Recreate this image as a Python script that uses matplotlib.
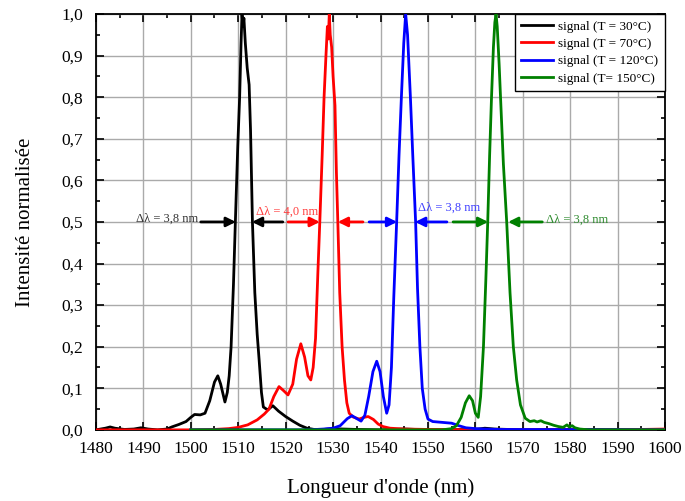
import numpy as np
import matplotlib
matplotlib.use('Agg')
import matplotlib.pyplot as plt
from matplotlib.ticker import MultipleLocator, FuncFormatter

plt.rcParams['font.family'] = ['Liberation Serif', 'DejaVu Serif']

# Spectra (wavelength in nm, normalised intensity)
wl_30 = [1480, 1482, 1483, 1484, 1486, 1488, 1489.5, 1491, 1493, 1495, 1496, 1497.5, 1499,
         1500, 1500.8, 1502, 1503, 1504, 1505, 1505.7, 1506.3, 1507.2, 1507.7, 1508.1, 1508.5,
         1509.0, 1509.4, 1509.9, 1510.3, 1510.6, 1510.8, 1511.0, 1511.2, 1511.5, 1511.9, 1512.3,
         1512.6, 1513.0, 1513.5, 1514.0, 1514.4, 1514.9, 1515.3, 1516.2, 1517.3, 1518.5, 1520,
         1521.5, 1523, 1524.5, 1526, 1528, 1530, 1532, 1535, 1540, 1545, 1550, 1560, 1562, 1564,
         1570, 1580, 1600]
int_30 = [0.0, 0.004, 0.007, 0.004, 0.001, 0.002, 0.005, 0.002, 0.0, 0.002, 0.007, 0.013, 0.02,
          0.03, 0.037, 0.036, 0.04, 0.07, 0.115, 0.13, 0.11, 0.067, 0.09, 0.13, 0.2,
          0.35, 0.5, 0.68, 0.8, 0.93, 1.0, 0.97, 0.99, 0.93, 0.87, 0.83,
          0.72, 0.5, 0.33, 0.23, 0.17, 0.09, 0.055, 0.048, 0.058, 0.045, 0.032,
          0.021, 0.011, 0.004, 0.001, 0.001, 0.003, 0.002, 0.001, 0.0, 0.002, 0.0, 0.001, 0.004, 0.002,
          0.0, 0.001, 0.0]

wl_70 = [1480, 1500, 1505, 1508, 1510, 1512, 1514, 1515.5, 1516.5, 1517.5, 1518.6, 1519.5, 1520.5,
         1521.5, 1522.3, 1523.2, 1524, 1524.7, 1525.3, 1525.8, 1526.3, 1526.8, 1527.2, 1527.7,
         1528.1, 1528.5, 1528.8, 1529.0, 1529.2, 1529.4, 1529.7, 1530.0, 1530.4, 1530.7, 1531.0,
         1531.4, 1531.9, 1532.4, 1532.9, 1533.4, 1534.2, 1535.5, 1536.5, 1537.4, 1538.5, 1539.5,
         1540.5, 1542, 1545, 1550, 1560, 1590, 1595, 1600]
int_70 = [0.0, 0.0, 0.001, 0.003, 0.006, 0.012, 0.024, 0.038, 0.05, 0.08, 0.104, 0.095, 0.084,
          0.11, 0.17, 0.207, 0.175, 0.13, 0.12, 0.15, 0.22, 0.38, 0.5, 0.66,
          0.8, 0.9, 0.97, 0.94, 1.0, 0.95, 0.92, 0.85, 0.78, 0.62, 0.5,
          0.33, 0.2, 0.12, 0.065, 0.04, 0.031, 0.026, 0.03, 0.032, 0.025, 0.014,
          0.008, 0.004, 0.002, 0.001, 0.0, 0.0, 0.001, 0.002]

wl_120 = [1500, 1525, 1528, 1530, 1531.5, 1533, 1534, 1535, 1535.9, 1536.7, 1537.5, 1538.4, 1539.2,
          1539.9, 1540.6, 1541.3, 1541.8, 1542.3, 1542.8, 1543.4, 1543.9, 1544.4, 1544.9, 1545.3,
          1545.7, 1546.3, 1546.8, 1547.4, 1547.8, 1548.3, 1548.8, 1549.4, 1550, 1551, 1553, 1555,
          1556.5, 1558, 1560, 1562, 1565, 1600]
int_120 = [0.0, 0.0, 0.002, 0.004, 0.01, 0.027, 0.034, 0.027, 0.021, 0.035, 0.08, 0.14, 0.165,
           0.14, 0.08, 0.04, 0.06, 0.15, 0.32, 0.5, 0.66, 0.8, 0.93, 1.0,
           0.95, 0.8, 0.66, 0.5, 0.34, 0.2, 0.1, 0.05, 0.026, 0.02, 0.018, 0.016,
           0.01, 0.005, 0.003, 0.002, 0.001, 0.0]

wl_150 = [1500, 1553, 1555, 1556, 1557, 1557.9, 1558.7, 1559.4, 1560, 1560.6, 1561.1, 1561.7, 1562.2,
          1562.6, 1563.0, 1563.4, 1563.8, 1564.1, 1564.35, 1564.6, 1565.0, 1565.3, 1565.9, 1566.6,
          1567.3, 1568.0, 1568.7, 1569.5, 1570.5, 1571.5, 1572.4, 1573, 1573.8, 1574.5, 1575.5,
          1576.5, 1577.5, 1578.5, 1579.3, 1579.8, 1580.4, 1581, 1582, 1584, 1600]
int_150 = [0.0, 0.0, 0.003, 0.01, 0.03, 0.065, 0.082, 0.07, 0.04, 0.03, 0.08, 0.2, 0.36,
           0.5, 0.66, 0.8, 0.92, 0.98, 1.0, 0.97, 0.88, 0.8, 0.64, 0.5,
           0.33, 0.2, 0.12, 0.06, 0.028, 0.02, 0.022, 0.019, 0.022, 0.018, 0.015,
           0.011, 0.008, 0.006, 0.012, 0.007, 0.01, 0.005, 0.002, 0.0, 0.0]

labels = ['signal (T = 30°C)', 'signal (T = 70°C)', 'signal (T = 120°C)', 'signal (T= 150°C)']
colors = ['black', '#ff0000', '#0000ff', '#008000']

# FWHM annotations
fwhm_text = ['Δλ = 3,8 nm', 'Δλ = 4,0 nm', 'Δλ = 3,8 nm', 'Δλ = 3,8 nm']
fwhm_left = [(1502.1, 1509.5), (1520.5, 1527.2), (1537.6, 1543.5), (1555.3, 1562.7)]
fwhm_right = [(1519.4, 1512.9), (1536.3, 1531.0), (1554.0, 1547.3), (1574.1, 1566.9)]

fig = plt.figure(figsize=(6.85, 5.01), dpi=100)
ax = fig.add_axes([0.140, 0.142, 0.831, 0.830])

series = [(wl_30, int_30), (wl_70, int_70), (wl_120, int_120), (wl_150, int_150)]
for (x, y), c, lab in zip(series, colors, labels):
    ax.plot(x, y, color=c, lw=2, label=lab, zorder=3)

# arrows
for (l0, l1), (r0, r1), c in zip(fwhm_left, fwhm_right, colors):
    for a, b in [(l0, l1), (r0, r1)]:
        ax.annotate('', xy=(b, 0.5), xytext=(a, 0.5),
                    arrowprops=dict(arrowstyle='-|>', color=c, lw=2,
                                    mutation_scale=14, shrinkA=0, shrinkB=0),
                    zorder=4)

ax.text(1501.6, 0.508, fwhm_text[0], color='#333333', fontsize=9, ha='right', va='center')
ax.text(1520.3, 0.525, fwhm_text[1], color='#ff4040', fontsize=9, ha='center', va='center')
ax.text(1547.9, 0.534, fwhm_text[2], color='#4040ff', fontsize=9, ha='left', va='center')
ax.text(1574.9, 0.506, fwhm_text[3], color='#2e8b2e', fontsize=9, ha='left', va='center')

ax.set_xlim(1480, 1600)
ax.set_ylim(0, 1.0)
ax.xaxis.set_major_locator(MultipleLocator(10))
ax.xaxis.set_minor_locator(MultipleLocator(5))
ax.yaxis.set_major_locator(MultipleLocator(0.1))
ax.yaxis.set_minor_locator(MultipleLocator(0.05))
ax.yaxis.set_major_formatter(FuncFormatter(lambda v, p: f'{v:.1f}'.replace('.', ',')))

ax.grid(True, which='major', color='#aaaaaa', lw=1, zorder=0)
ax.tick_params(which='both', direction='in', top=True, right=True, labelsize=12.5, width=1.2)
ax.tick_params(which='major', length=6)
ax.tick_params(which='minor', length=3)
ax.tick_params(axis='y', pad=9)
ax.tick_params(axis='x', pad=8)
for s in ax.spines.values():
    s.set_linewidth(1.3)

ax.set_xlabel("Longueur d'onde (nm)", fontsize=15, labelpad=15)
ax.set_ylabel('Intensité normalisée', fontsize=15, labelpad=19)

leg = ax.legend(loc='upper right', borderaxespad=0, fontsize=9.5, handlelength=2.4,
                handletextpad=0.4, fancybox=False, framealpha=1, edgecolor='black',
                labelspacing=0.38, borderpad=0.5)
leg.get_frame().set_linewidth(1)

fig.savefig('out.png', dpi=100)
